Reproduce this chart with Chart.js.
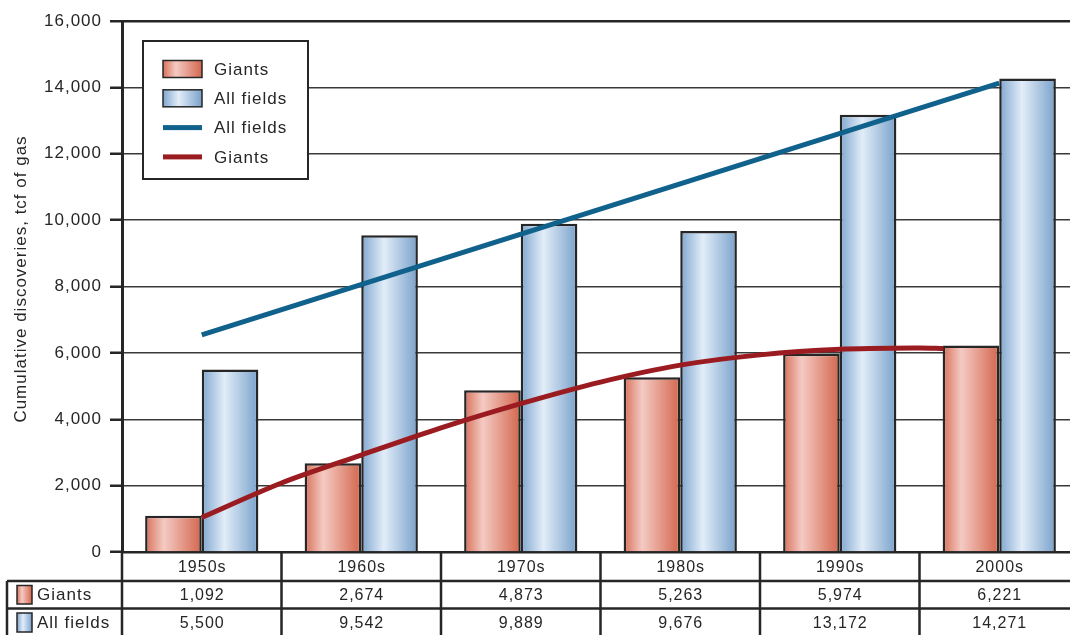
<!DOCTYPE html>
<html>
<head>
<meta charset="utf-8">
<script src="https://cdn.jsdelivr.net/npm/chart.js@4"></script>
<style>
  html, body { margin: 0; padding: 0; background: #fff; overflow: hidden; }
  #chart { display: block; }
</style>
</head>
<body>
<canvas id="chart" width="1082" height="635"></canvas>
<script>
// decades and cumulative discoveries (tcf of gas)
const decades = ["1950s", "1960s", "1970s", "1980s", "1990s", "2000s"];
const giants = [1092, 2674, 4873, 5263, 5974, 6221];
const allFields = [5500, 9542, 9889, 9676, 13172, 14271];

// trend lines, x is the decade index
const allFieldsTrendX = [0, 5];
const allFieldsTrendY = [6540, 14130];
const giantsTrendX = [0, 0.5, 1, 1.5, 2, 2.5, 3, 3.5, 4, 4.5, 4.65];
const giantsTrendY = [1040, 2080, 2920, 3740, 4470, 5120, 5630, 5940, 6110, 6150, 6130];

const yTicks = { min: 0, max: 16000, step: 2000 };

const FONT = "'Liberation Sans', Arial, sans-serif";
const INK = "#262626";
const CAT_PCT = 0.71;

const redStops = [[0, "#d8705a"], [0.33, "#f4cac3"], [1, "#d3664d"]];
const blueStops = [[0, "#7fa6cf"], [0.4, "#e2edf8"], [1, "#79a1cb"]];

function makeGradient(ctx, stops, x0, x1) {
	const g = ctx.createLinearGradient(x0, 0, x1, 0);
	stops.forEach(([o, c]) => g.addColorStop(o, c));
	return g;
}

// fill for one half of the bar pair, 0 = left bar, 1 = right bar
function barFill(stops, side) {
	return (context) => {
		const chart = context.chart;
		const xs = chart.scales.x;
		if (!xs || context.dataIndex === undefined) return stops[0][1];
		const w = (xs.width / decades.length) * CAT_PCT;
		const c = xs.getPixelForValue(context.dataIndex);
		if (!Number.isFinite(w) || !Number.isFinite(c) || w <= 0) return stops[0][1];
		const left = side === 0 ? c - w / 2 : c;
		return makeGradient(chart.ctx, stops, left, left + w / 2);
	};
}

const toPoints = (xs, ys) => xs.map((x, i) => ({ x: x, y: ys[i] }));
const byDecade = (ys) => ys.map((y, i) => ({ x: i, y: y }));

const fmt = (v) => v.toLocaleString("en-US");

// the type face is set a little loose
const spacing = {
	id: "spacing",
	beforeDraw(chart) {
		chart.ctx.letterSpacing = "1px";
	},
};

// legend box inside the plot and the data table under the axis
const extras = {
	id: "extras",
	afterDraw(chart) {
		const ctx = chart.ctx;
		const area = chart.chartArea;
		const xs = chart.scales.x;
		const colW = xs.width / decades.length;

		ctx.save();
		ctx.letterSpacing = "1px";

		// y axis title
		ctx.save();
		ctx.translate(21, 279);
		ctx.rotate(-Math.PI / 2);
		ctx.fillStyle = INK;
		ctx.font = "17px " + FONT;
		ctx.textAlign = "center";
		ctx.textBaseline = "middle";
		ctx.fillText("Cumulative discoveries, tcf of gas", 0, 0);
		ctx.restore();

		// legend
		const lx = area.left + 21;
		const ly = area.top + 20;
		ctx.fillStyle = "#fff";
		ctx.fillRect(lx, ly, 165, 138);
		ctx.strokeStyle = INK;
		ctx.lineWidth = 2;
		ctx.strokeRect(lx, ly, 165, 138);
		ctx.font = "17px " + FONT;
		ctx.textBaseline = "middle";
		ctx.textAlign = "left";
		chart.data.datasets.forEach((ds, i) => {
			const cy = ly + 28 + i * 29.3;
			const sx = lx + 20;
			if (ds.type === "line") {
				ctx.fillStyle = ds.borderColor;
				ctx.fillRect(sx, cy - 2.5, 39, 5);
			} else {
				ctx.fillStyle = makeGradient(ctx, ds.legendStops, sx, sx + 39);
				ctx.fillRect(sx, cy - 8.5, 39, 17);
				ctx.strokeStyle = INK;
				ctx.lineWidth = 1.5;
				ctx.strokeRect(sx, cy - 8.5, 39, 17);
			}
			ctx.fillStyle = INK;
			ctx.fillText(ds.label, lx + 71, cy + 1);
		});

		// table
		const top = area.bottom;
		const rowH = [29, 27.5, 28];
		const r1 = top + rowH[0];
		const r2 = r1 + rowH[1];
		const r3 = r2 + rowH[2];
		const right = chart.width;
		const headL = 7;

		ctx.strokeStyle = INK;
		ctx.lineWidth = 2.5;
		ctx.beginPath();
		ctx.moveTo(headL, r1); ctx.lineTo(right, r1);
		ctx.moveTo(headL, r2); ctx.lineTo(right, r2);
		ctx.moveTo(headL, r1); ctx.lineTo(headL, r3 + 5);
		ctx.moveTo(area.left, top); ctx.lineTo(area.left, r3 + 5);
		for (let i = 1; i <= decades.length; i++) {
			const bx = area.left + i * colW;
			ctx.moveTo(bx, top); ctx.lineTo(bx, r3 + 5);
		}
		ctx.stroke();

		ctx.font = "16px " + FONT;
		ctx.textAlign = "center";
		ctx.fillStyle = INK;
		const rows = [giants, allFields];
		decades.forEach((d, i) => {
			const cx = xs.getPixelForValue(i) + 0.5;
			ctx.fillText(d, cx, top + rowH[0] / 2 + 1);
			ctx.fillText(fmt(rows[0][i]), cx, r1 + rowH[1] / 2 + 1);
			ctx.fillText(fmt(rows[1][i]), cx, r2 + rowH[2] / 2 + 1);
		});

		// row headers with swatches
		ctx.textAlign = "left";
		ctx.font = "17px " + FONT;
		const heads = [chart.data.datasets[0], chart.data.datasets[1]];
		[r1, r2].forEach((ry, i) => {
			const h = rowH[i + 1];
			const sx = 17;
			ctx.fillStyle = makeGradient(ctx, heads[i].legendStops, sx, sx + 15);
			ctx.fillRect(sx, ry + 4.5, 15, h - 9);
			ctx.strokeStyle = INK;
			ctx.lineWidth = 1.5;
			ctx.strokeRect(sx, ry + 4.5, 15, h - 9);
			ctx.fillStyle = INK;
			ctx.fillText(heads[i].label, 37, ry + h / 2 + 1);
		});

		ctx.restore();
	},
};

const context = document.getElementById("chart").getContext("2d");

// bars and trend lines share one linear x axis (decade index)
const chart = new Chart(context, {
	type: "bar",
	data: {
		labels: decades,
		datasets: [
			{
				label: "Giants",
				data: byDecade(giants),
				backgroundColor: barFill(redStops, 0),
				legendStops: redStops,
				borderColor: INK,
				borderWidth: 2.5,
				categoryPercentage: CAT_PCT,
				barPercentage: 1,
				order: 2,
			},
			{
				label: "All fields",
				data: byDecade(allFields),
				backgroundColor: barFill(blueStops, 1),
				legendStops: blueStops,
				borderColor: INK,
				borderWidth: 2.5,
				categoryPercentage: CAT_PCT,
				barPercentage: 1,
				order: 2,
			},
			{
				type: "line",
				label: "All fields",
				data: toPoints(allFieldsTrendX, allFieldsTrendY),
				borderColor: "#10628c",
				borderWidth: 5,
				pointRadius: 0,
				order: 1,
			},
			{
				type: "line",
				label: "Giants",
				data: toPoints(giantsTrendX, giantsTrendY),
				borderColor: "#9b1c20",
				borderWidth: 5,
				pointRadius: 0,
				tension: 0.3,
				order: 0,
			},
		],
	},
	options: {
		responsive: false,
		animation: false,
		layout: { padding: { left: 0, right: 3, top: 21, bottom: 0 } },
		plugins: {
			legend: { display: false },
			tooltip: { enabled: false },
		},
		scales: {
			x: {
				type: "linear",
				offset: false,
				min: -0.5,
				max: decades.length - 0.5,
				afterBuildTicks: (scale) => {
					scale.ticks = decades.map((d, i) => ({ value: i }));
				},
				ticks: { display: false },
				grid: { display: false },
				border: { display: true, color: INK, width: 2.5 },
				afterFit: (scale) => { scale.height = 83; },
			},
			y: {
				min: yTicks.min,
				max: yTicks.max,
				ticks: {
					stepSize: yTicks.step,
					padding: 8,
					color: INK,
					font: { family: FONT, size: 17 },
					callback: (v) => fmt(v),
				},
				grid: {
					color: (c) => (c.tick && c.tick.value === yTicks.max ? INK : "#3a3a3a"),
					lineWidth: (c) => (c.tick && c.tick.value === yTicks.max ? 2.5 : 1.5),
					tickLength: 12,
					tickColor: INK,
					tickWidth: 2.5,
				},
				border: { display: true, color: INK, width: 3 },
				afterFit: (scale) => { scale.width = 122; },
			},
		},
	},
	plugins: [spacing, extras],
});
</script>
</body>
</html>
